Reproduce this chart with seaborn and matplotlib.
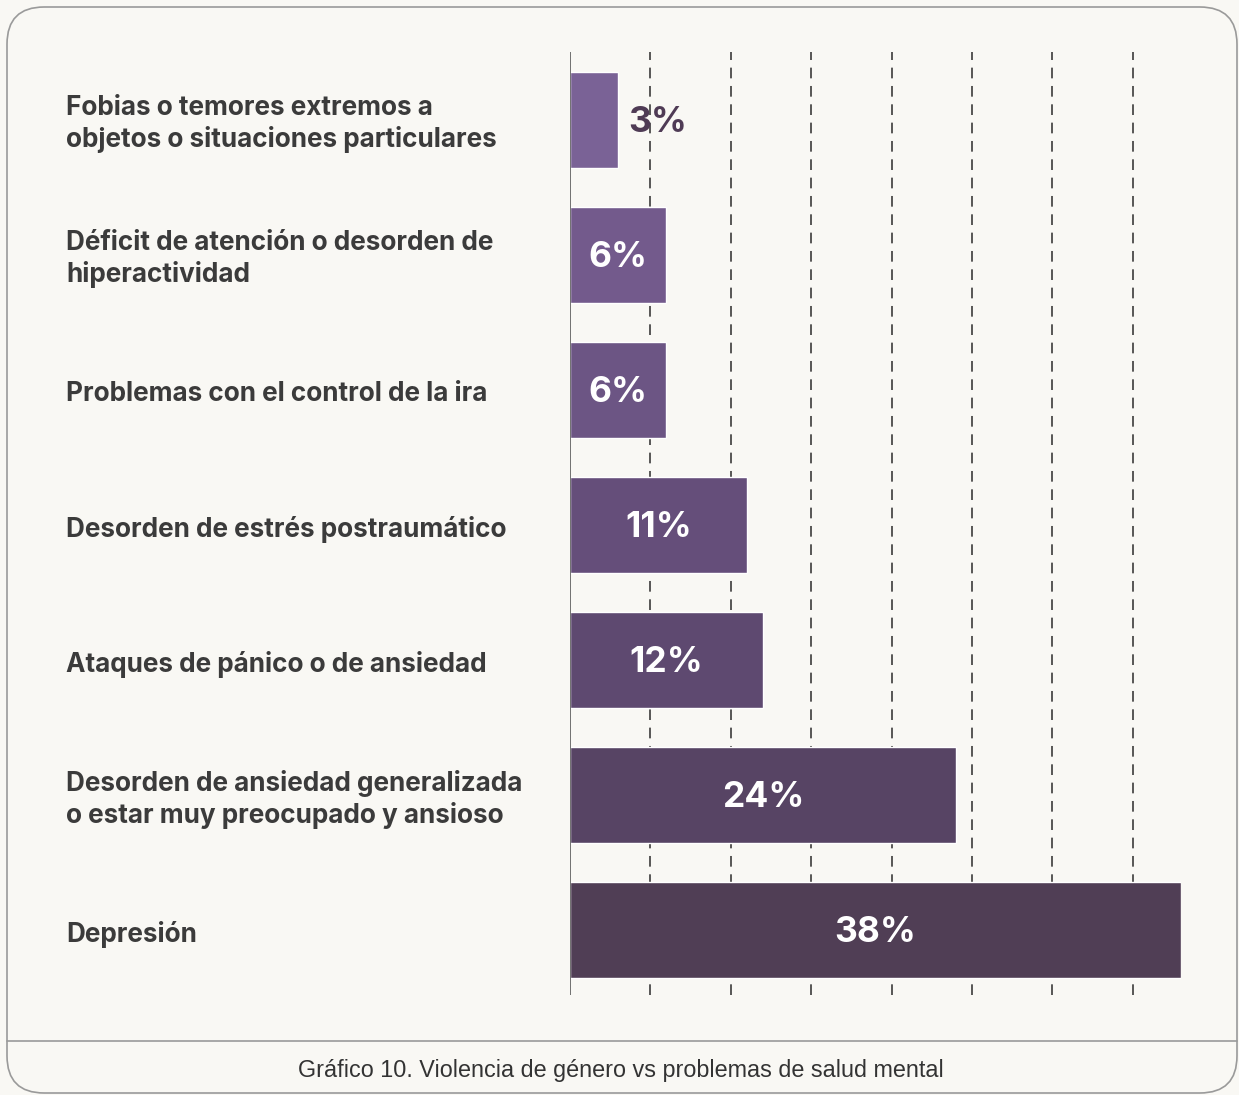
import numpy as np
import pandas as pd
import matplotlib.pyplot as plt
import matplotlib.transforms as mtransforms
import seaborn as sns
from matplotlib.patches import FancyBboxPatch

# data
categorias = [
    "Fobias o temores extremos a\nobjetos o situaciones particulares",
    "Déficit de atención o desorden de\nhiperactividad",
    "Problemas con el control de la ira",
    "Desorden de estrés postraumático",
    "Ataques de pánico o de ansiedad",
    "Desorden de ansiedad generalizada\no estar muy preocupado y ansioso",
    "Depresión",
]
porcentajes = [3, 6, 6, 11, 12, 24, 38]
colores = ["#7a6296", "#735a8c", "#6c5584", "#654e7a", "#5e4970", "#574464", "#503e55"]
titulo = "Gráfico 10. Violencia de género vs problemas de salud mental"

df = pd.DataFrame({"cat": categorias, "pct": porcentajes})

sns.set_theme(style="white")
plt.rcParams["font.family"] = ["Liberation Sans", "DejaVu Sans"]

bg = "#f9f8f4"
fig = plt.figure(figsize=(12.39, 10.95), dpi=100)
fig.patch.set_facecolor(bg)

# frame with rounded corners and caption strip
frame = FancyBboxPatch((7 / 1239, 2 / 1095), 1230 / 1239, 1086 / 1095,
                       boxstyle="round,pad=0,rounding_size=0.03",
                       transform=fig.transFigure, facecolor="none",
                       edgecolor="#9a9a9a", linewidth=1.2, zorder=-1,
                       mutation_aspect=1239 / 1095)
fig.patches.append(frame)
fig.add_artist(plt.Line2D([7 / 1239, 1237 / 1239], [1 - 1041 / 1095] * 2,
                          transform=fig.transFigure, color="#9a9a9a", lw=1.2))

ax = fig.add_axes([570 / 1239, 1 - 995 / 1095, 611 / 1239, 943 / 1095])
ax.set_facecolor("none")

sns.barplot(data=df, x="pct", y="cat", hue="cat", palette=colores,
            width=0.71, legend=False, ax=ax, zorder=3, saturation=1)

ax.set_xlim(0, 38)
ax.set_ylim(6.48, -0.5)

for x in range(5, 40, 5):
    ax.axvline(x, color="#2b2b2b", lw=1.1, ls=(0, (7, 5)), zorder=1)
ax.axvline(0, color="#666666", lw=1.3, zorder=4)

for s in ax.spines.values():
    s.set_visible(False)
ax.set_xticks([])
ax.set_yticks([])
ax.set_xlabel("")
ax.set_ylabel("")

# category labels, left aligned in figure coords
trans = mtransforms.blended_transform_factory(fig.transFigure, ax.transData)
for i, c in enumerate(categorias):
    ax.text(66 / 1239, i + 0.035, c, transform=trans, ha="left", va="center",
            fontsize=18.8, fontweight="bold", color="#3b3b3b", linespacing=1.24,
            family=["Inter", "DejaVu Sans"])

# value labels
for i, v in enumerate(porcentajes):
    if v < 5:
        ax.text(v + 0.6, i + 0.02, f"{v}%", ha="left", va="center", fontsize=25.5,
                fontweight="bold", color="#4f3b55", zorder=5,
                family=["Inter", "DejaVu Sans"])
    else:
        ax.text(v / 2, i + 0.02, f"{v}%", ha="center", va="center", fontsize=25.5,
                fontweight="bold", color="white", zorder=5,
                family=["Inter", "DejaVu Sans"])

fig.text(621 / 1239, 1 - 1070 / 1095, titulo, ha="center", va="center",
         fontsize=16.8, color="#333333")

fig.savefig("out.png", dpi=100, facecolor=bg)
